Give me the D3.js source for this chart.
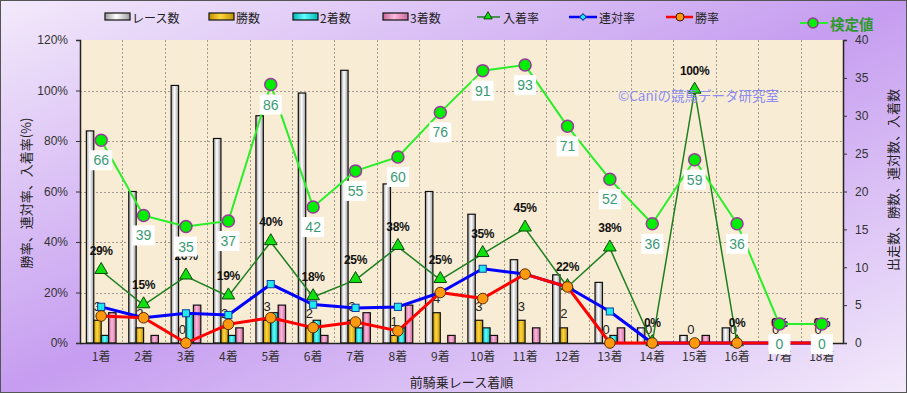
<!DOCTYPE html>
<html><head><meta charset="utf-8">
<script src="https://cdn.jsdelivr.net/npm/d3@7"></script>
<style>html,body{margin:0;padding:0;background:#fff;} svg{display:block;}</style>
</head><body><svg id="c" width="907" height="393"></svg>
<script>
// ---- data ----
const categories = ["1着","2着","3着","4着","5着","6着","7着","8着","9着","10着","11着","12着","13着","14着","15着","16着","17着","18着"];
const races   = [28,20,34,27,30,33,36,21,20,17,11,9,8,2,1,2,0,0];
const wins    = [3,2,0,2,3,2,3,1,4,3,3,2,0,0,0,0,0,0];
const seconds = [1,0,4,1,4,3,2,2,0,2,0,0,1,0,0,0,0,0];
const thirds  = [4,1,5,2,5,1,4,5,1,1,2,0,2,0,1,0,0,0];
const placeRate  = [28.6,15.0,26.4,18.5,40.0,18.2,25.0,38.1,25.0,35.3,45.4,22.2,37.5,0,100,0,0,0];
const rentaiRate = [14.3,10.0,11.8,11.1,23.3,15.2,13.9,14.3,20.0,29.4,27.3,22.2,12.5,0,0,0,0,0];
const winRate    = [10.7,10.0,0,7.4,10.0,6.1,8.3,4.8,20.0,17.6,27.3,22.2,0,0,0,0,0,0];
const kentei     = [66,39,35,37,86,42,55,60,76,91,93,71,52,36,59,36,0,0];
const leftTicks  = [0,20,40,60,80,100,120];
const rightTicks = [0,5,10,15,20,25,30,35,40];

const svg = d3.select("#c");
const W = 907, H = 393;
const PL = 80, PR = 843, PT = 40, PB = 343;
const defs = svg.append("defs");

// background gradient
const bg = defs.append("linearGradient").attr("id","bg").attr("x1",0).attr("y1",0).attr("x2",1).attr("y2",1);
bg.append("stop").attr("offset","0%").attr("stop-color","#f3eafb");
bg.append("stop").attr("offset","50%").attr("stop-color","#c69df0");
bg.append("stop").attr("offset","100%").attr("stop-color","#f3eafb");
svg.append("rect").attr("x",0.5).attr("y",0.5).attr("width",W-1).attr("height",H-1)
  .attr("fill","url(#bg)").attr("stroke","#555").attr("stroke-width",1);

function barGrad(id, edge, mid){
  const g = defs.append("linearGradient").attr("id",id).attr("x1",0).attr("y1",0).attr("x2",1).attr("y2",0);
  g.append("stop").attr("offset","0%").attr("stop-color",edge);
  g.append("stop").attr("offset","45%").attr("stop-color",mid);
  g.append("stop").attr("offset","100%").attr("stop-color",edge);
}
barGrad("gRace","#9c9c9c","#ffffff");
barGrad("gWin","#c09000","#ffd640");
barGrad("gSec","#00b4b4","#60ffff");
barGrad("gThi","#c8689a","#ffb8dc");

// scales
const x0 = d3.scaleBand().domain(categories).range([PL,PR]).paddingInner(0.3).paddingOuter(0.15);
const keys = ["races","wins","seconds","thirds"];
const x1 = d3.scaleBand().domain(keys).range([0,x0.bandwidth()]);
const yL = d3.scaleLinear().domain([0,120]).range([PB,PT]);
const yR = d3.scaleLinear().domain([0,40]).range([PB,PT]);
const yK = d3.scaleLinear().domain([-6.8,102]).range([PB,PT]);
const cx = c => x0(c) + x0.bandwidth()/2;

// plot bg
svg.append("rect").attr("x",PL).attr("y",PT).attr("width",PR-PL).attr("height",PB-PT).attr("fill","#f8ecd4");

// grid
const step = x0.step();
const grid = svg.append("g").attr("stroke","#a09a90").attr("stroke-width",1).attr("stroke-dasharray","2,2");
leftTicks.filter(v=>v>0 && v<120).forEach(v=>{
  grid.append("line").attr("x1",PL).attr("x2",PR).attr("y1",Math.round(yL(v))+0.5).attr("y2",Math.round(yL(v))+0.5);
});
categories.slice(1).forEach((c,i)=>{
  const x = Math.round(x0(c) - step*x0.paddingInner()/2)+0.5;
  grid.append("line").attr("x1",x).attr("x2",x).attr("y1",PT).attr("y2",PB);
});

// bars
const series = {races, wins, seconds, thirds};
const fills = {races:"url(#gRace)", wins:"url(#gWin)", seconds:"url(#gSec)", thirds:"url(#gThi)"};
keys.forEach(k=>{
  svg.append("g").selectAll("rect").data(categories).join("rect")
    .attr("x",(c)=>x0(c)+x1(k))
    .attr("width",x1.bandwidth())
    .attr("y",(c,i)=>yR(series[k][i]))
    .attr("height",(c,i)=>PB-yR(series[k][i]))
    .attr("fill",fills[k]).attr("stroke","#111").attr("stroke-width",1.2)
    .style("display",(c,i)=>series[k][i]>0?null:"none");
});

// win count labels
svg.append("g").selectAll("text").data(categories).join("text")
  .attr("x",c=>x0(c)+x1("wins")+x1.bandwidth()/2)
  .attr("y",(c,i)=>yR(wins[i])-14)
  .attr("text-anchor","middle").attr("dominant-baseline","central")
  .attr("font-family","Liberation Sans, Arial, sans-serif").attr("font-size",13).attr("fill","#222")
  .text((c,i)=>wins[i]);

// axes
const axL = svg.append("g").attr("transform",`translate(${PL},0)`)
  .call(d3.axisLeft(yL).tickValues(leftTicks).tickFormat(d=>d+"%").tickSize(4).tickPadding(8));
const axR = svg.append("g").attr("transform",`translate(${PR},0)`)
  .call(d3.axisRight(yR).tickValues(rightTicks).tickSize(4).tickPadding(8));
const axB = svg.append("g").attr("transform",`translate(0,${PB})`)
  .call(d3.axisBottom(x0).tickSize(0).tickPadding(9));
[axL,axR,axB].forEach(a=>{
  a.selectAll("path").attr("stroke","#222").attr("stroke-width",1.5);
  a.selectAll("line").attr("stroke","#333");
  a.selectAll("text").attr("fill","#333").attr("font-size",12).attr("font-family","Liberation Sans, Arial, sans-serif");
});
axB.selectAll("text").attr("font-family","Noto Sans CJK JP, sans-serif").attr("font-size",12);

// lines
function drawLine(vals, scale, color, width){
  const line = d3.line().x((d,i)=>cx(categories[i])).y(d=>scale(d));
  svg.append("path").datum(vals).attr("d",line).attr("fill","none").attr("stroke",color).attr("stroke-width",width).attr("stroke-linejoin","round");
}
// 入着率
drawLine(placeRate, yL, "#1d7f1d", 1.5);
svg.append("g").selectAll("path").data(placeRate).join("path")
  .attr("d",d3.symbol(d3.symbolTriangle,70))
  .attr("transform",(d,i)=>`translate(${cx(categories[i])},${yL(d)-1})`)
  .attr("fill","#10e010").attr("stroke","#0a4a0a").attr("stroke-width",1);
// 連対率
drawLine(rentaiRate, yL, "#0000ff", 3);
svg.append("g").selectAll("path").data(rentaiRate).join("path")
  .attr("d",d3.symbol(d3.symbolDiamond2 || d3.symbolSquare,64))
  .attr("transform",(d,i)=>`translate(${cx(categories[i])},${yL(d)}) rotate(45)`)
  .attr("fill","#22e8f0").attr("stroke","#1040a0").attr("stroke-width",1);
// 勝率
drawLine(winRate, yL, "#ff0000", 3);
svg.append("g").selectAll("circle").data(winRate).join("circle")
  .attr("cx",(d,i)=>cx(categories[i])).attr("cy",d=>yL(d)).attr("r",5.3)
  .attr("fill","#ff9a10").attr("stroke","#5a2a00").attr("stroke-width",1);

// place rate labels
svg.append("g").selectAll("text").data(placeRate).join("text")
  .attr("x",(d,i)=>cx(categories[i])).attr("y",d=>yL(d)-20)
  .attr("text-anchor","middle").attr("dominant-baseline","central")
  .attr("font-family","Liberation Sans, Arial, sans-serif").attr("font-weight","bold").attr("font-size",12)
  .attr("fill","#111").attr("letter-spacing","-0.3")
  .text(d=>Math.round(d)+"%");

// 検定値
drawLine(kentei, yK, "#2aee2a", 2);
svg.append("g").selectAll("circle").data(kentei).join("circle")
  .attr("cx",(d,i)=>cx(categories[i])).attr("cy",d=>yK(d)).attr("r",6)
  .attr("fill","#00ee00").attr("stroke","#9a3a9a").attr("stroke-width",1.5);
const kl = svg.append("g").selectAll("g").data(kentei).join("g")
  .attr("transform",(d,i)=>`translate(${cx(categories[i])},${yK(d)+20})`);
kl.append("rect").attr("x",-11).attr("y",-10).attr("width",22).attr("height",20).attr("fill","#fff");
kl.append("text").attr("text-anchor","middle").attr("dominant-baseline","central")
  .attr("font-family","Liberation Sans, Arial, sans-serif").attr("font-size",14).attr("fill","#3a9a72")
  .text(d=>d);

// watermark
svg.append("text").attr("x",618).attr("y",101).attr("font-family","Noto Sans CJK JP, sans-serif")
  .attr("font-size",13.5).attr("fill","#8c8cf2").text("©Caniの競馬データ研究室");

// axis titles
svg.append("text").attr("transform","translate(25,193) rotate(-90)").attr("text-anchor","middle")
  .attr("dominant-baseline","central").attr("font-family","Noto Sans CJK JP, sans-serif").attr("font-size",13).attr("fill","#222")
  .text("勝率、連対率、入着率(%)");
svg.append("text").attr("transform","translate(892,180) rotate(-90)").attr("text-anchor","middle")
  .attr("dominant-baseline","central").attr("font-family","Noto Sans CJK JP, sans-serif").attr("font-size",13).attr("fill","#222")
  .text("出走数、勝数、連対数、入着数");
svg.append("text").attr("x",(PL+PR)/2).attr("y",381).attr("text-anchor","middle")
  .attr("dominant-baseline","central").attr("font-family","Noto Sans CJK JP, sans-serif").attr("font-size",13).attr("fill","#222")
  .text("前騎乗レース着順");

// legend
const lg = svg.append("g").attr("font-family","Noto Sans CJK JP, sans-serif").attr("font-size",12).attr("fill","#222");
const barLeg = [["レース数","gRace",105],["勝数","gWin",209],["2着数","gSec",293],["3着数","gThi",383]];
barLeg.forEach(([t,g,x])=>{
  lg.append("rect").attr("x",x).attr("y",13).attr("width",25).attr("height",7).attr("fill",`url(#${g})`).attr("stroke","#111").attr("stroke-width",1.2);
  lg.append("text").attr("x",x+27).attr("y",17).attr("dominant-baseline","central").text(t);
});
// line legends
const ly = 17;
lg.append("line").attr("x1",477).attr("x2",500).attr("y1",ly).attr("y2",ly).attr("stroke","#1d7f1d").attr("stroke-width",1.5);
lg.append("path").attr("d",d3.symbol(d3.symbolTriangle,30)).attr("transform",`translate(488,${ly-0.5})`).attr("fill","#10e010").attr("stroke","#0a4a0a");
lg.append("text").attr("x",503).attr("y",ly).attr("dominant-baseline","central").text("入着率");
lg.append("line").attr("x1",569).attr("x2",597).attr("y1",ly).attr("y2",ly).attr("stroke","#0000ff").attr("stroke-width",2.5);
lg.append("path").attr("d",d3.symbol(d3.symbolSquare,22)).attr("transform",`translate(583,${ly}) rotate(45)`).attr("fill","#22e8f0").attr("stroke","#1040a0");
lg.append("text").attr("x",599).attr("y",ly).attr("dominant-baseline","central").text("連対率");
lg.append("line").attr("x1",666).attr("x2",693).attr("y1",ly).attr("y2",ly).attr("stroke","#ff0000").attr("stroke-width",2.5);
lg.append("circle").attr("cx",680).attr("cy",ly).attr("r",4).attr("fill","#ff9a10").attr("stroke","#3a1a00");
lg.append("text").attr("x",695).attr("y",ly).attr("dominant-baseline","central").text("勝率");
// 検定値 legend
lg.append("line").attr("x1",800).attr("x2",828).attr("y1",23).attr("y2",23).attr("stroke","#2aee2a").attr("stroke-width",2);
lg.append("circle").attr("cx",813).attr("cy",23).attr("r",5).attr("fill","#00ee00").attr("stroke","#9a3a9a").attr("stroke-width",1.5);
lg.append("text").attr("x",830).attr("y",23).attr("dominant-baseline","central").attr("font-size",14.5)
  .attr("font-weight","bold").attr("fill","#2e9a2e").text("検定値");
</script>
</body></html>
